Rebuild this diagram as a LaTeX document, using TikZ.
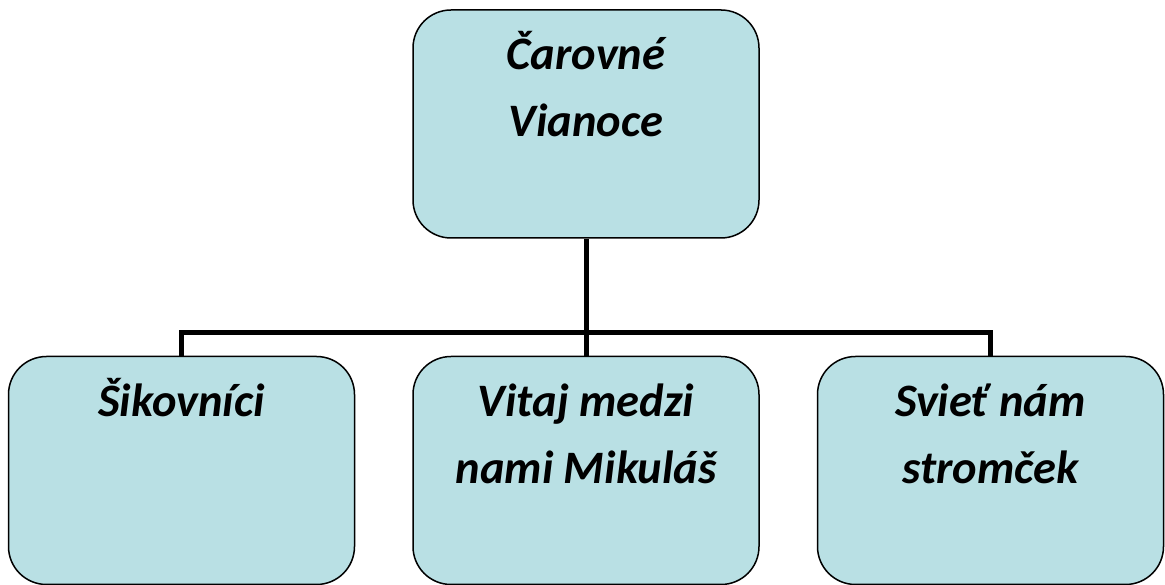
\documentclass[tikz,border=0pt]{standalone}
\usepackage{fontspec}
\setmainfont{Carlito}
\usetikzlibrary{positioning}

\definecolor{boxfill}{RGB}{185,224,228}
\newcommand{\unittext}[1]{\parbox[t][228pt][t]{346pt}{\centering\vspace*{13pt}\strut #1}}

\begin{document}
\begin{tikzpicture}[
    x = 1pt, y = 1pt,
    node distance = 117pt and 57pt,
    unit/.style = {draw, rectangle, rounded corners=38pt, line width=1.5pt, fill=boxfill,
                   inner sep=0pt, minimum width=346pt, minimum height=228pt,
                   font=\fontsize{46.5pt}{67pt}\selectfont\bfseries\itshape},
    conn/.style = {line width=5pt, line join=miter}
]
    \useasboundingbox (0,0) rectangle (1165,585);

    % Nodes
    \node [unit] (top) at (586,461) {\unittext{Čarovné\\Vianoce}};
    \node [unit, below=of top] (mid) {\unittext{Vitaj medzi\\nami Mikuláš}};
    \node [unit, left=of mid] (left) {\unittext{Šikovníci}};
    \node [unit, right=of mid] (right) {\unittext{Svieť nám\\stromček}};

    % Edges
    \draw [conn] (top.south) -- ++(0,-94) coordinate (split);
    \draw [conn] (split) -| (left.north);
    \draw [conn] (split) -| (right.north);
    \draw [conn] (split) -- (mid.north);

\end{tikzpicture}
\end{document}
